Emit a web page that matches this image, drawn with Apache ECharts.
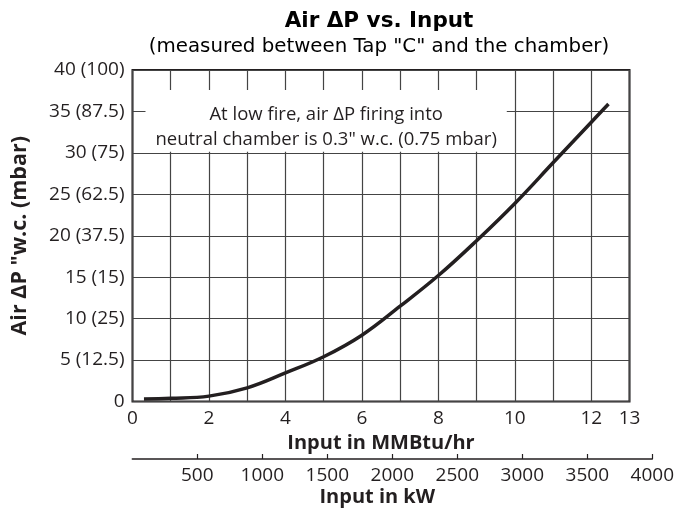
<!DOCTYPE html>
<html>
<head>
<meta charset="utf-8">
<script src="https://cdn.jsdelivr.net/npm/echarts@6/dist/echarts.min.js"></script>
<style>
html,body{margin:0;padding:0;background:#fff;}
#chart{width:677px;height:508px;}
</style>
</head>
<body>
<div id="chart"></div>
<script>
// Data
const inputMMBtu = [0.3, 1, 2, 3, 4, 5, 6, 7, 8, 9, 10, 11, 12, 12.45];
const airDeltaP  = [0.3, 0.38, 0.65, 1.65, 3.45, 5.4, 8.0, 11.5, 15.2, 19.4, 23.9, 28.8, 33.7, 35.9];
const mmbtuTickLabels = [0, 2, 4, 6, 8, 10, 12, 13];
const yTickLabels = ['0', '5 (12.5)', '10 (25)', '15 (15)', '20 (37.5)', '25 (62.5)', '30 (75)', '35 (87.5)', '40 (100)'];
const kwTicks = [500, 1000, 1500, 2000, 2500, 3000, 3500, 4000];
const noteText = 'At low fire, air \u0394P firing into\nneutral chamber is 0.3" w.c. (0.75 mbar)';

const ink = '#231f20';
const chart = echarts.init(document.getElementById('chart'), null, {renderer: 'canvas'});
chart.setOption({
  animation: false,
  backgroundColor: '#ffffff',
  title: [
    {text: 'Air \u0394P vs. Input', left: 379, top: 10, textAlign: 'center', padding: 0,
     textStyle: {fontFamily: 'DejaVu Sans', fontWeight: 'bold', fontSize: 21.5, lineHeight: 22, color: '#000'}},
    {text: '(measured between Tap "C" and the chamber)', left: 379, top: 37, textAlign: 'center', padding: 0,
     textStyle: {fontFamily: 'DejaVu Sans', fontWeight: 'normal', fontSize: 19.8, lineHeight: 20, color: '#000'}}
  ],
  grid: [
    {left: 132.5, right: 47.5, top: 70, bottom: 106.5, show: true, borderColor: ink, borderWidth: 2, backgroundColor: 'transparent'},
    {left: 132.3, right: 23.8, top: 455, bottom: 47, show: false}
  ],
  xAxis: [
    {type: 'value', gridIndex: 0, min: 0, max: 13, interval: 1,
     axisLine: {show: false}, axisTick: {show: false},
     splitLine: {show: true, lineStyle: {color: '#444444', width: 1.2}},
     axisLabel: {margin: 8, fontFamily: 'Open Sans', fontSize: 19, color: ink,
       formatter: v => mmbtuTickLabels.indexOf(v) >= 0 ? String(v) : ''},
     name: 'Input in MMBtu/hr', nameLocation: 'middle', nameGap: 29,
     nameTextStyle: {fontFamily: 'Open Sans', fontWeight: 'bold', fontSize: 20, color: ink}},
    {type: 'value', gridIndex: 1, min: 0, max: 4000, interval: 500, position: 'bottom',
     axisLine: {show: true, lineStyle: {color: ink, width: 1.5}},
     axisTick: {show: true, inside: true, length: 5, customValues: kwTicks, lineStyle: {color: ink, width: 1.2}},
     splitLine: {show: false},
     axisLabel: {margin: 7, fontFamily: 'Open Sans', fontSize: 19, color: ink,
       formatter: v => kwTicks.indexOf(v) >= 0 ? String(v) : ''},
     name: 'Input in kW', nameLocation: 'middle', nameGap: 28,
     nameTextStyle: {fontFamily: 'Open Sans', fontWeight: 'bold', fontSize: 20, color: ink, padding: [0, 30, 0, 0]}}
  ],
  yAxis: [
    {type: 'value', gridIndex: 0, min: 0, max: 40, interval: 5,
     axisLine: {show: false}, axisTick: {show: false},
     splitLine: {show: true, lineStyle: {color: '#444444', width: 1.2}},
     axisLabel: {margin: 8, fontFamily: 'Open Sans', fontSize: 19, color: ink,
       formatter: v => yTickLabels[Math.round(v / 5)]},
     name: 'Air \u0394P "w.c. (mbar)', nameLocation: 'middle', nameGap: 102, nameRotate: 90,
     nameTextStyle: {fontFamily: 'Open Sans', fontWeight: 'bold', fontSize: 21.5, color: ink}},
    {type: 'value', gridIndex: 1, show: false, min: 0, max: 1}
  ],
  series: [{
    type: 'line',
    xAxisIndex: 0, yAxisIndex: 0,
    data: inputMMBtu.map((x, i) => [x, airDeltaP[i]]),
    smooth: 0.4,
    showSymbol: false,
    lineStyle: {color: ink, width: 3.5},
    markArea: {
      silent: true,
      itemStyle: {color: '#ffffff', borderWidth: 0},
      label: {show: true, position: 'inside', formatter: noteText, offset: [0, 6],
        fontFamily: 'Open Sans', fontSize: 18.5, lineHeight: 25, color: ink, align: 'center'},
      data: [[{xAxis: 0.34, yAxis: 30.15}, {xAxis: 9.79, yAxis: 37.6}]]
    }
  }]
});
</script>
</body>
</html>
